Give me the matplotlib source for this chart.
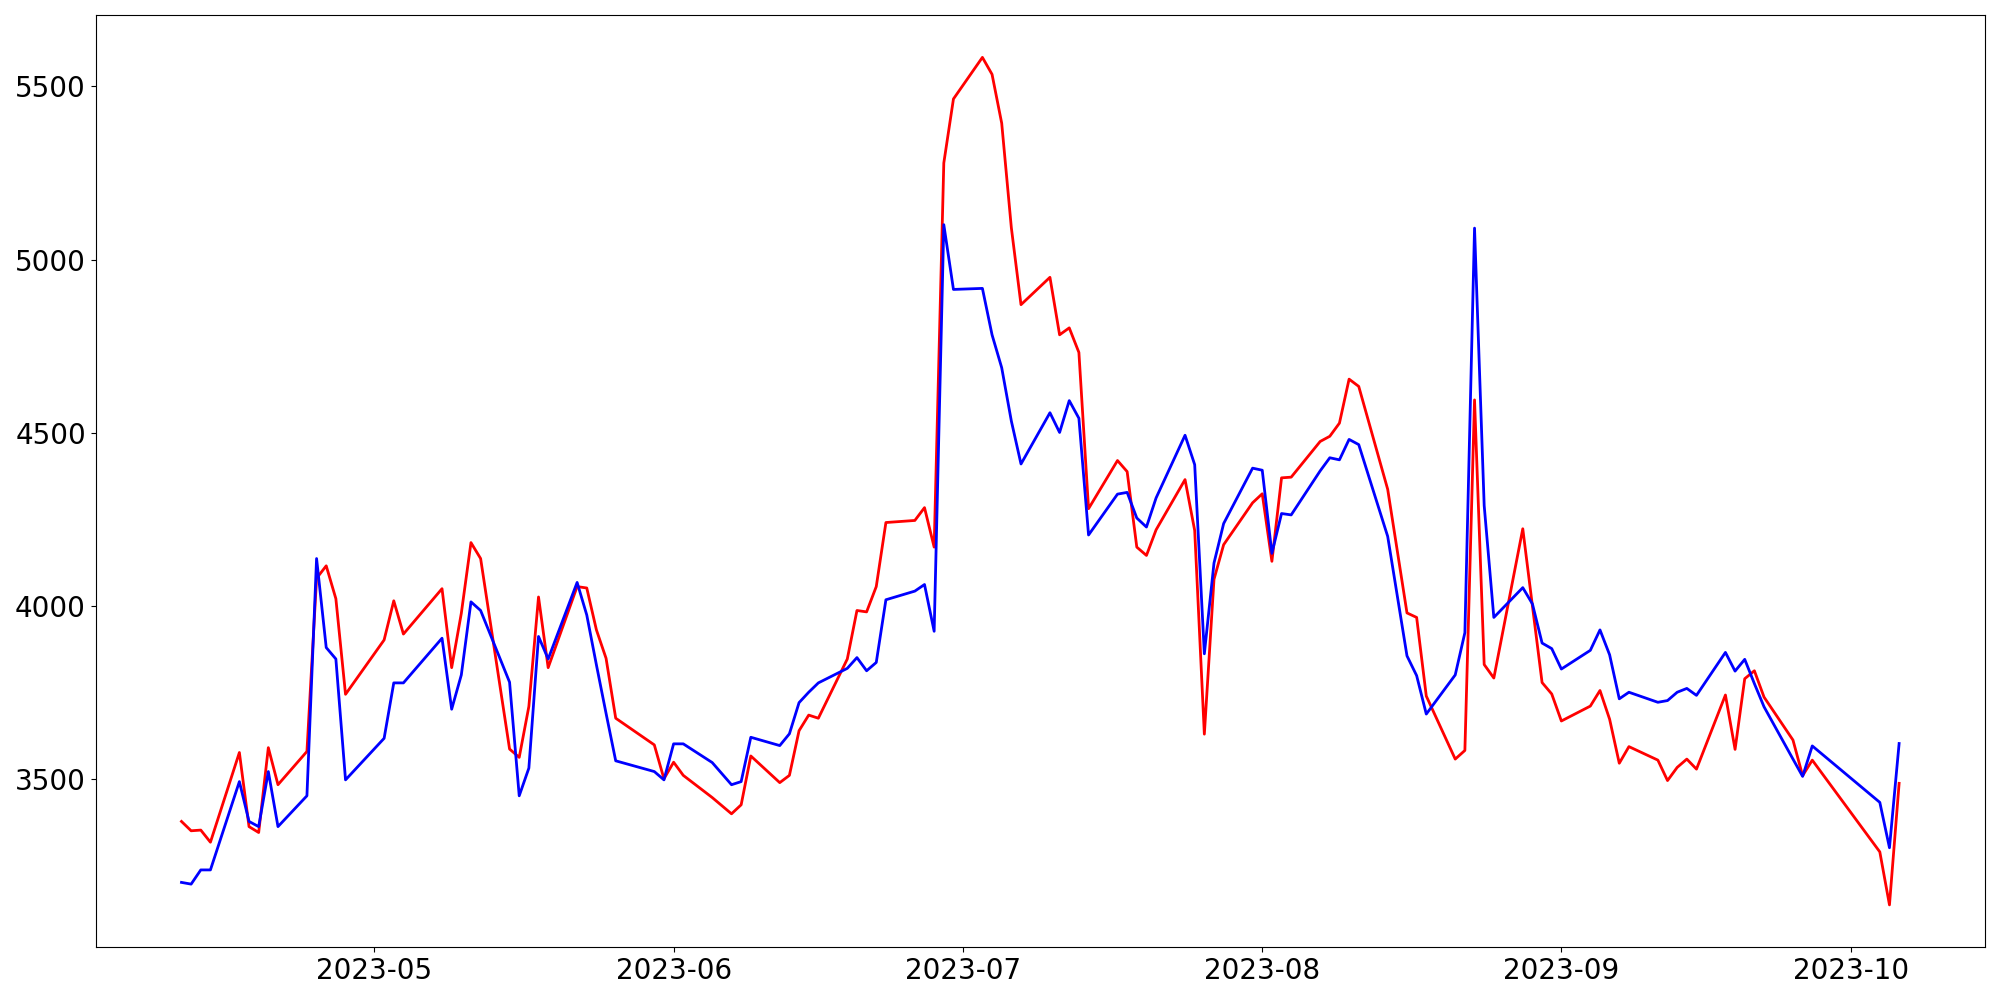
import matplotlib
matplotlib.use('Agg')
import matplotlib.pyplot as plt
import pandas as pd

# KRX trading days, 2023-04-11 .. 2023-10-06
holidays = ['2023-05-01', '2023-05-05', '2023-05-29', '2023-06-06',
            '2023-08-15', '2023-09-28', '2023-09-29', '2023-10-02', '2023-10-03']
dates = pd.bdate_range('2023-04-11', '2023-10-06', freq='C', holidays=holidays)

red = [3378, 3351, 3353, 3318, 3577, 3363, 3346, 3591, 3484, 3580,
       4080, 4116, 4021, 3745, 3902, 4015, 3919, 4050, 3822, 3979,
       4183, 4137, 3587, 3563, 3710, 4026, 3822, 4056, 4052, 3931,
       3849, 3676, 3599, 3501, 3549, 3511, 3447, 3400, 3426, 3567,
       3490, 3511, 3640, 3685, 3676, 3847, 3987, 3983, 4056, 4241,
       4247, 4284, 4170, 5279, 5464, 5584, 5535, 5394, 5092, 4870,
       4949, 4783, 4803, 4732, 4281, 4420, 4388, 4170, 4146, 4220,
       4365, 4218, 3630, 4077, 4177, 4298, 4324, 4129, 4370, 4372,
       4475, 4490, 4528, 4655, 4634, 4337, 3980, 3967, 3740, 3558,
       3583, 4595, 3831, 3792, 4223, 4000, 3779, 3746, 3668, 3711,
       3756, 3673, 3546, 3594, 3555, 3496, 3534, 3558, 3529, 3743,
       3586, 3790, 3813, 3737, 3613, 3510, 3555, 3290, 3137, 3488]

blue = [3202, 3197, 3238, 3238, 3493, 3378, 3363, 3522, 3363, 3452,
        4137, 3880, 3847, 3498, 3618, 3778, 3778, 3907, 3702, 3801,
        4012, 3987, 3780, 3452, 3532, 3912, 3847, 4068, 3974, 3830,
        3690, 3553, 3522, 3498, 3602, 3602, 3548, 3484, 3493, 3621,
        3597, 3631, 3721, 3751, 3778, 3820, 3851, 3813, 3837, 4018,
        4043, 4062, 3927, 5101, 4914, 4917, 4783, 4688, 4534, 4410,
        4558, 4501, 4593, 4542, 4205, 4323, 4328, 4254, 4228, 4312,
        4493, 4408, 3862, 4124, 4238, 4398, 4392, 4152, 4267, 4263,
        4390, 4428, 4422, 4481, 4466, 4201, 3856, 3799, 3688, 3801,
        3923, 5091, 4290, 3967, 4053, 4006, 3893, 3877, 3818, 3872,
        3931, 3859, 3732, 3751, 3722, 3727, 3751, 3762, 3742, 3866,
        3812, 3846, 3776, 3709, 3558, 3508, 3596, 3433, 3302, 3603]

plt.figure(figsize=(20, 10), dpi=100)
plt.plot(dates, red, color='red', linewidth=2)
plt.plot(dates, blue, color='blue', linewidth=2)
plt.xticks(fontsize=20)
plt.yticks(fontsize=20)
plt.tight_layout()
plt.savefig('out.png')
